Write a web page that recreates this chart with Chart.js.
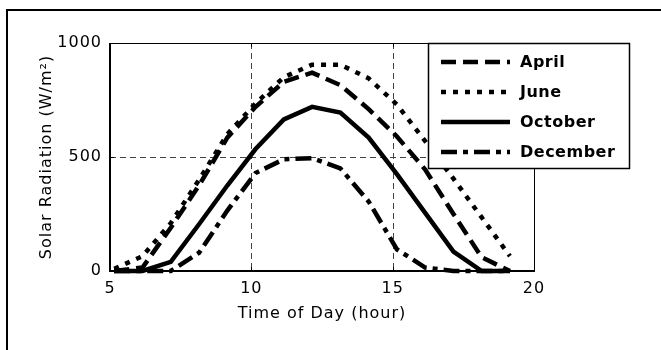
<!DOCTYPE html>
<html>
<head>
<meta charset="utf-8">
<script src="https://cdn.jsdelivr.net/npm/chart.js@4.4.1/dist/chart.umd.min.js"></script>
<style>
  body { margin: 0; background: #fff; overflow: hidden; }
  #frame { position: absolute; left: 6px; top: 9px; width: 700px; height: 400px; border: 2px solid #000; }
  #wrap { position: absolute; left: 0; top: 0; width: 661px; height: 350px; }
</style>
</head>
<body>
<div id="frame"></div>
<div id="wrap"><canvas id="radChart" width="661" height="350"></canvas></div>
<script>
// sample times (hour of day)
const hours = [5.15, 6.15, 7.15, 8.15, 9.15, 10.15, 11.15, 12.15, 13.15, 14.15, 15.15, 16.15, 17.15, 18.15, 19.15];

// solar radiation, W/m2
const april    = [0, 15, 190, 375, 585, 720, 830, 870, 815, 710, 590, 445, 250, 60, 0];
const june     = [10, 65, 210, 400, 600, 735, 850, 905, 905, 845, 730, 570, 405, 235, 65];
const october  = [0, 0, 40, 205, 375, 535, 665, 720, 695, 585, 425, 255, 85, 0, 0];
const december = [0, 0, 0, 80, 265, 430, 490, 495, 450, 305, 95, 15, 0, 0, 0];

const xTicks = [5, 10, 15, 20];
const yTicks = [0, 500, 1000];

const toPoints = vals => vals.map((v, i) => ({ x: hours[i], y: v }));

Chart.defaults.font.family = "'DejaVu Sans', sans-serif";
Chart.defaults.font.size = 16;
Chart.defaults.color = '#000';

const FONT_SPACING = '1px';

// dashed grid at inner ticks + plot frame with inward ticks
const matlabAxes = {
    id: 'matlabAxes',
    beforeDraw(chart) {
        chart.ctx.letterSpacing = FONT_SPACING;
    },
    beforeDatasetsDraw(chart) {
        const { ctx, chartArea: a, scales: { x, y } } = chart;
        ctx.save();
        ctx.setLineDash([6, 4]);
        ctx.strokeStyle = '#444';
        ctx.lineWidth = 1;
        x.ticks.forEach(t => {
            if (t.value === x.min || t.value === x.max) return;
            const px = Math.round(x.getPixelForValue(t.value)) + 0.5;
            ctx.beginPath(); ctx.moveTo(px, a.top); ctx.lineTo(px, a.bottom); ctx.stroke();
        });
        y.ticks.forEach(t => {
            if (t.value === y.min || t.value === y.max) return;
            const py = Math.round(y.getPixelForValue(t.value)) + 0.5;
            ctx.beginPath(); ctx.moveTo(a.left, py); ctx.lineTo(a.right, py); ctx.stroke();
        });
        ctx.restore();
    },
    afterDatasetsDraw(chart) {
        const { ctx, chartArea: a, scales: { x, y } } = chart;
        ctx.save();
        ctx.setLineDash([]);
        ctx.strokeStyle = '#000';
        ctx.lineWidth = 1;
        ctx.strokeRect(a.left + 0.5, a.top + 0.5, a.right - a.left, a.bottom - a.top);
        ctx.lineWidth = 2;
        ctx.beginPath();
        ctx.moveTo(a.left, a.top); ctx.lineTo(a.left, a.bottom); ctx.lineTo(a.right, a.bottom);
        ctx.stroke();
        ctx.lineWidth = 1;
        x.ticks.forEach(t => {
            const px = Math.round(x.getPixelForValue(t.value)) + 0.5;
            ctx.beginPath();
            ctx.moveTo(px, a.bottom); ctx.lineTo(px, a.bottom - 4);
            ctx.moveTo(px, a.top); ctx.lineTo(px, a.top + 4);
            ctx.stroke();
        });
        y.ticks.forEach(t => {
            const py = Math.round(y.getPixelForValue(t.value)) + 0.5;
            ctx.beginPath();
            ctx.moveTo(a.left, py); ctx.lineTo(a.left + 4, py);
            ctx.moveTo(a.right, py); ctx.lineTo(a.right - 4, py);
            ctx.stroke();
        });
        ctx.restore();
    },
    afterDraw(chart) {
        // boxed legend in the upper right, overlapping the plot edge
        const { ctx, chartArea: a } = chart;
        const bx = a.right - 106, by = a.top, bw = 201, bh = 125;
        ctx.save();
        ctx.fillStyle = '#fff';
        ctx.fillRect(bx, by, bw, bh);
        ctx.strokeStyle = '#000';
        ctx.lineWidth = 1.5;
        ctx.strokeRect(bx + 0.5, by + 0.5, bw, bh);
        ctx.letterSpacing = '0.5px';
        chart.data.datasets.forEach((ds, i) => {
            const ly = by + 19 + i * 30;
            ctx.setLineDash(ds.borderDash || []);
            ctx.lineCap = 'butt';
            ctx.lineWidth = ds.borderWidth;
            ctx.beginPath(); ctx.moveTo(bx + 13, ly); ctx.lineTo(bx + 82, ly); ctx.stroke();
            ctx.setLineDash([]);
            ctx.font = "bold 16px 'DejaVu Sans', sans-serif";
            ctx.textBaseline = 'middle';
            ctx.fillStyle = '#000';
            ctx.fillText(ds.label, bx + 92, ly + 1);
        });
        ctx.restore();
    }
};

const lineStyle = (label, vals, dash) => ({
    label: label,
    data: toPoints(vals),
    borderColor: '#000',
    borderWidth: 4.5,
    borderDash: dash,
    borderCapStyle: 'butt',
    borderJoinStyle: 'miter',
    pointRadius: 0,
    tension: 0,
    fill: false,
    clip: false
});

new Chart(document.getElementById('radChart'), {
    type: 'line',
    data: {
        datasets: [
            lineStyle('April', april, [15, 7]),
            lineStyle('June', june, [5, 7]),
            lineStyle('October', october, []),
            lineStyle('December', december, [16, 6, 5, 6])
        ]
    },
    options: {
        responsive: false,
        animation: false,
        events: [],
        layout: { padding: { left: 0, top: 43, right: 127, bottom: 0 } },
        plugins: { legend: { display: false }, tooltip: { enabled: false } },
        scales: {
            x: {
                type: 'linear', min: 5, max: 20,
                afterBuildTicks: s => { s.ticks = xTicks.map(v => ({ value: v })); },
                afterFit: s => { s.height = 79; },
                grid: { display: false, drawTicks: false },
                border: { display: false },
                ticks: { padding: 8, color: '#000', callback: v => String(v) },
                title: { display: true, text: 'Time of Day (hour)', color: '#000', padding: { top: 0, bottom: 27 } }
            },
            y: {
                type: 'linear', min: 0, max: 1000,
                afterBuildTicks: s => { s.ticks = yTicks.map(v => ({ value: v })); },
                afterFit: s => { s.width = 110; },
                grid: { display: false, drawTicks: false },
                border: { display: false },
                ticks: { padding: 8, color: '#000', callback: v => String(v) },
                title: { display: true, text: 'Solar Radiation (W/m²)', color: '#000', padding: { top: 37, bottom: 0 } }
            }
        }
    },
    plugins: [matlabAxes]
});
</script>
</body>
</html>
